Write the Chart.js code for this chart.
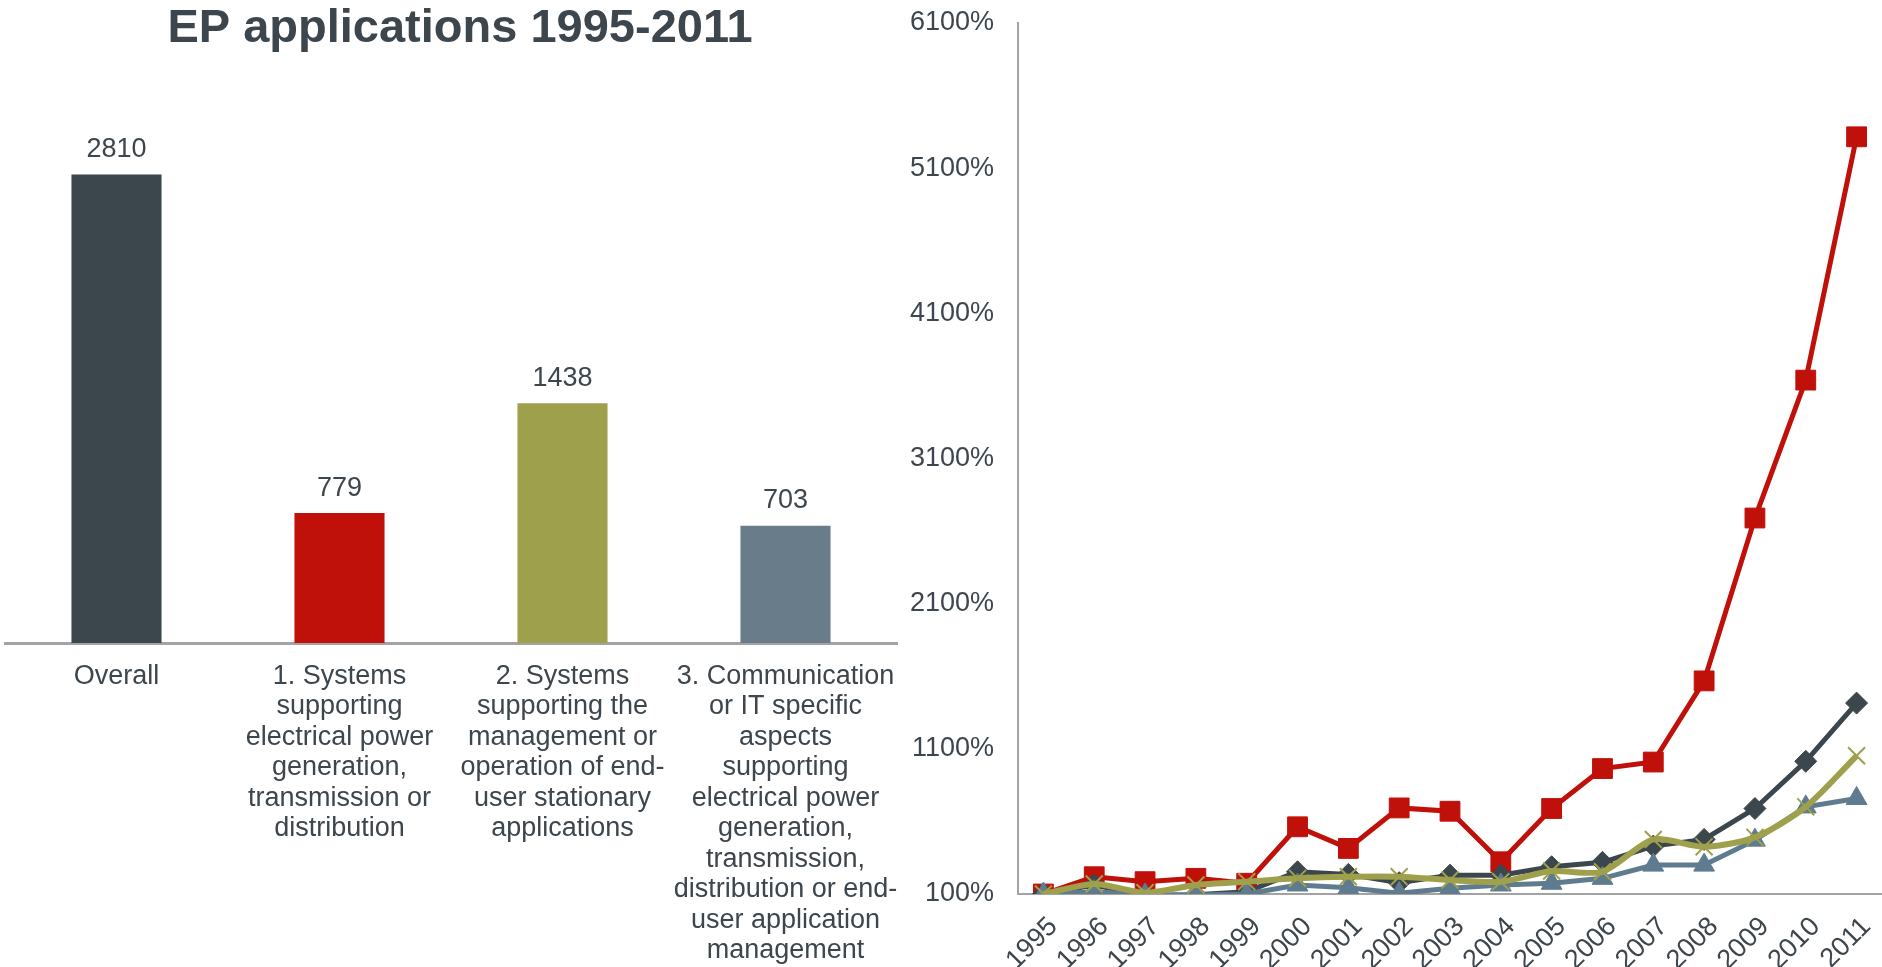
<!DOCTYPE html>
<html>
<head>
<meta charset="utf-8">
<title>EP applications 1995-2011</title>
<script src="https://cdn.jsdelivr.net/npm/chart.js@4.4.1/dist/chart.umd.min.js"></script>
<style>
  html, body { margin: 0; padding: 0; background: #fff; overflow: hidden; }
  #barBox { position: absolute; left: 0; top: 0; width: 920px; height: 967px; }
  #lineBox { position: absolute; left: 900px; top: 0; width: 982px; height: 967px; }
</style>
</head>
<body>
<div id="barBox"><canvas id="barChart"></canvas></div>
<div id="lineBox"><canvas id="lineChart"></canvas></div>
<script>
// bar chart: applications per field
const barCategories = [
  ["Overall"],
  ["1. Systems", "supporting", "electrical power", "generation,", "transmission or", "distribution"],
  ["2. Systems", "supporting the", "management or", "operation of end-", "user stationary", "applications"],
  ["3. Communication", "or IT specific", "aspects", "supporting", "electrical power", "generation,", "transmission,", "distribution or end-", "user application", "management"]
];
const barValues = [2810, 779, 1438, 703];

// line chart: growth index, 1995 = 100%
const years = ["1995", "1996", "1997", "1998", "1999", "2000", "2001", "2002", "2003",
  "2004", "2005", "2006", "2007", "2008", "2009", "2010", "2011"];
const overallGrowth = [100, 162, 90, 95, 116, 253, 235, 178, 230, 230, 288, 318, 430, 476, 689, 1014, 1415];
const powerGrowth = [100, 219, 185, 208, 174, 563, 414, 693, 670, 322, 689, 964, 1009, 1568, 2690, 3640, 5316];
const endUserGrowth = [100, 169, 109, 162, 185, 208, 219, 219, 196, 185, 258, 253, 476, 425, 490, 700, 1052];
const ictGrowth = [100, 116, 93, 93, 100, 162, 143, 105, 139, 162, 174, 208, 299, 299, 471, 700, 758];
const growthTicks = [100, 1100, 2100, 3100, 4100, 5100, 6100];

const textColor = "#3d464d";
const axisColor = "#a3a3a3";
const darkColor = "#3c464d";
const redColor = "#c0100a";
const oliveColor = "#9fa04c";
const slateBarColor = "#697c8a";
const slateLineColor = "#5f7b90";
const fontFamily = '"Liberation Sans", Arial, sans-serif';

Chart.defaults.font.family = fontFamily;
Chart.defaults.color = textColor;

const barValueLabels = {
  id: "barValueLabels",
  afterDatasetsDraw(chart) {
    const ctx = chart.ctx;
    const meta = chart.getDatasetMeta(0);
    ctx.save();
    ctx.font = "27px " + fontFamily;
    ctx.fillStyle = textColor;
    ctx.textAlign = "center";
    ctx.textBaseline = "middle";
    meta.data.forEach((bar, i) => {
      ctx.fillText(String(barValues[i]), bar.x, bar.y - 25);
    });
    ctx.restore();
  }
};

new Chart(document.getElementById("barChart").getContext("2d"), {
  type: "bar",
  data: {
    labels: barCategories,
    datasets: [{
      data: barValues,
      backgroundColor: [darkColor, redColor, oliveColor, slateBarColor],
      categoryPercentage: 1,
      barPercentage: 0.404
    }]
  },
  options: {
    responsive: true,
    maintainAspectRatio: false,
    animation: false,
    layout: { padding: { left: 5, right: 5, top: 0, bottom: 0 } },
    plugins: {
      legend: { display: false },
      tooltip: { enabled: false },
      title: {
        display: true,
        text: "EP applications 1995-2011",
        color: textColor,
        font: { size: 47, weight: "bold" },
        padding: { top: 1, bottom: 7 }
      }
    },
    scales: {
      x: {
        grid: { display: false },
        border: { display: true, color: axisColor, width: 3 },
        ticks: {
          color: textColor,
          font: { size: 27, lineHeight: 1.13 },
          padding: 10,
          maxRotation: 0,
          autoSkip: false
        },
        afterFit: s => { s.height = 324; }
      },
      y: {
        position: "right",
        min: 0,
        max: 3470,
        grid: { display: false },
        border: { display: false },
        ticks: { display: false },
        afterFit: s => { s.width = 18; }
      }
    }
  },
  plugins: [barValueLabels]
});

new Chart(document.getElementById("lineChart").getContext("2d"), {
  type: "line",
  data: {
    labels: years,
    datasets: [
      {
        label: "3. Communication or IT",
        data: ictGrowth,
        borderColor: slateLineColor,
        backgroundColor: slateLineColor,
        borderWidth: 5,
        pointStyle: "triangle",
        pointRadius: 12,
        pointBorderWidth: 1,
        order: 1
      },
      {
        label: "2. End-user applications",
        data: endUserGrowth,
        borderColor: oliveColor,
        backgroundColor: oliveColor,
        borderWidth: 6,
        tension: 0.25,
        pointStyle: "crossRot",
        pointRadius: 12,
        pointBorderWidth: 2,
        order: 0
      },
      {
        label: "Overall",
        data: overallGrowth,
        borderColor: darkColor,
        backgroundColor: darkColor,
        borderWidth: 5,
        pointStyle: "rectRot",
        pointRadius: 11,
        pointBorderWidth: 1,
        order: 2
      },
      {
        label: "1. Power generation",
        data: powerGrowth,
        borderColor: redColor,
        backgroundColor: redColor,
        borderWidth: 5,
        pointStyle: "rect",
        pointRadius: 14,
        pointBorderWidth: 1,
        order: 3
      }
    ]
  },
  options: {
    responsive: true,
    maintainAspectRatio: false,
    animation: false,
    layout: { autoPadding: false, padding: { left: 0, right: 0, top: 23, bottom: 0 } },
    plugins: {
      legend: { display: false },
      tooltip: { enabled: false }
    },
    scales: {
      x: {
        offset: true,
        grid: { display: false },
        border: { display: true, color: axisColor, width: 2 },
        ticks: {
          color: textColor,
          font: { size: 27 },
          minRotation: 45,
          maxRotation: 45,
          padding: 9,
          labelOffset: 10,
          autoSkip: false
        },
        afterFit: s => { s.height = 73; s.paddingLeft = 0; s.paddingRight = 0; }
      },
      y: {
        min: 100,
        max: 6100,
        grid: { display: false },
        border: { display: true, color: axisColor, width: 2 },
        afterBuildTicks: s => { s.ticks = growthTicks.map(v => ({ value: v })); },
        ticks: {
          color: textColor,
          font: { size: 27 },
          padding: 16,
          callback: v => v + "%"
        },
        afterFit: s => { s.width = 118; s.paddingTop = 0; s.paddingBottom = 0; }
      }
    }
  }
});
</script>
</body>
</html>
